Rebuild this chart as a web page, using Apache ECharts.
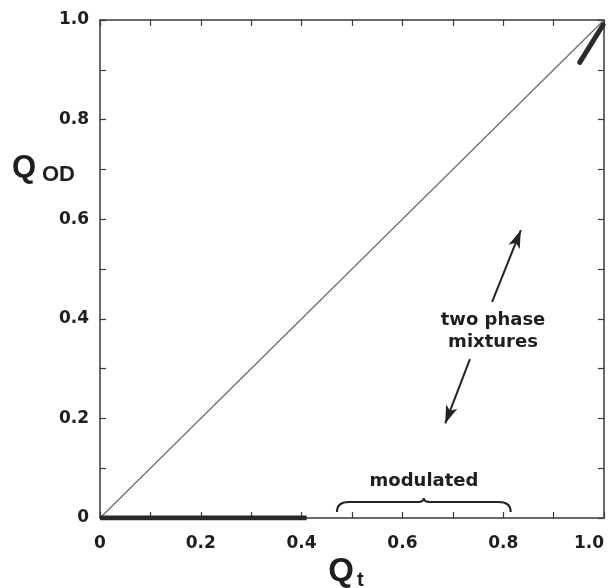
<!DOCTYPE html>
<html>
<head>
<meta charset="utf-8">
<script src="https://cdn.jsdelivr.net/npm/echarts@6/dist/echarts.min.js"></script>
<style>
  html, body { margin: 0; padding: 0; background: #fff; }
  #chart { width: 613px; height: 588px; }
</style>
</head>
<body>
<div id="chart"></div>
<script>
// diagonal Q_OD = Q_t
const diagonal = [[0, 0], [1, 1]];
// thick segments
const lowBranch = [[0, 0], [0.41, 0]];
const highBranch = [[0.952, 0.915], [0.998, 0.99]];
// annotation arrows [from, to]
const arrowUp = [[0.778, 0.434], [0.835, 0.578]];
const arrowDown = [[0.734, 0.319], [0.685, 0.19]];
// brace for "modulated" region: [start, end], baseline y
const braceRange = [0.47, 0.815];
const braceY = 0.012;
const tickLabels = ['0', '0.2', '0.4', '0.6', '0.8', '1.0'];

const chart = echarts.init(document.getElementById('chart'));
const axisColor = '#3a3a3a';
const textColor = '#1e1e1e';
const labelFont = { color: textColor, fontSize: 17, fontWeight: 'bold', fontFamily: 'DejaVu Sans' };

function fmt(v) {
  const k = Math.round(v * 10);
  if (k % 2) return '';
  return tickLabels[k / 2];
}

function baseAxis(extra) {
  return Object.assign({
    type: 'value', min: 0, max: 1, interval: 0.1,
    axisLine: { show: true, onZero: false, lineStyle: { color: axisColor, width: 1.5 } },
    axisTick: { show: true, inside: true, length: 6, lineStyle: { color: axisColor, width: 1.2 } },
    splitLine: { show: false },
  }, extra);
}

const option = {
  backgroundColor: '#fff',
  animation: false,
  grid: { left: 100, right: 9, top: 20, bottom: 70, containLabel: false, outerBoundsMode: 'none' },
  xAxis: [
    baseAxis({ position: 'bottom', axisLabel: Object.assign({ formatter: fmt, margin: 17, alignMaxLabel: 'right' }, labelFont) }),
    baseAxis({ position: 'top', axisLabel: { show: false } }),
  ],
  yAxis: [
    baseAxis({ position: 'left', axisLabel: Object.assign({ formatter: fmt, margin: 11 }, labelFont) }),
    baseAxis({ position: 'right', axisLabel: { show: false } }),
  ],
  series: [
    {
      type: 'line', data: diagonal, symbol: 'none',
      lineStyle: { color: '#6a6a6a', width: 1.2 },
    },
    {
      type: 'line', data: lowBranch, symbol: 'none',
      lineStyle: { color: '#2a2a2a', width: 5 },
    },
    {
      type: 'line', data: highBranch, symbol: 'none',
      lineStyle: { color: '#2a2a2a', width: 5, cap: 'round' },
    },
    {
      type: 'line', data: [], symbol: 'none',
      markLine: {
        silent: true,
        symbol: ['none', 'arrow'],
        symbolSize: [9, 18],
        label: { show: false },
        lineStyle: { color: '#222', width: 2, type: 'solid' },
        data: [
          [{ coord: arrowUp[0] }, { coord: arrowUp[1] }],
          [{ coord: arrowDown[0] }, { coord: arrowDown[1] }],
        ],
      },
    },
    {
      type: 'custom',
      data: [[braceRange[0], braceRange[1], braceY]],
      renderItem: function (params, api) {
        const a = api.coord([api.value(0), api.value(2)]);
        const b = api.coord([api.value(1), api.value(2)]);
        const y = a[1];
        const mid = (a[0] + b[0]) / 2;
        const h = 10;
        const top = y - h;
        const p = 'M' + a[0] + ' ' + y +
          ' Q' + a[0] + ' ' + top + ' ' + (a[0] + 12) + ' ' + top +
          ' L' + (mid - 6) + ' ' + top +
          ' Q' + mid + ' ' + top + ' ' + mid + ' ' + (top - 4) +
          ' Q' + mid + ' ' + top + ' ' + (mid + 6) + ' ' + top +
          ' L' + (b[0] - 12) + ' ' + top +
          ' Q' + b[0] + ' ' + top + ' ' + b[0] + ' ' + y;
        return {
          type: 'path',
          shape: { pathData: p },
          style: { fill: 'none', stroke: '#222', lineWidth: 2 },
        };
      },
    },
  ],
  graphic: [
    {
      type: 'text', x: 24, y: 168,
      style: { text: 'Q', font: 'bold 31px "Liberation Sans"', fill: textColor, align: 'center', verticalAlign: 'middle' },
    },
    {
      type: 'text', x: 42, y: 175,
      style: { text: 'OD', font: 'bold 22px "Liberation Sans"', fill: textColor, align: 'left', verticalAlign: 'middle' },
    },
    {
      type: 'text', x: 341, y: 572,
      style: { text: 'Q', font: 'bold 33px "Liberation Sans"', fill: textColor, align: 'center', verticalAlign: 'middle' },
    },
    {
      type: 'text', x: 357, y: 580,
      style: { text: 't', font: 'bold 20px "Liberation Sans"', fill: textColor, align: 'left', verticalAlign: 'middle' },
    },
    {
      type: 'text', x: 493, y: 320,
      style: { text: 'two phase', font: 'bold 18px "DejaVu Sans"', fill: textColor, align: 'center', verticalAlign: 'middle' },
    },
    {
      type: 'text', x: 493, y: 342,
      style: { text: 'mixtures', font: 'bold 18px "DejaVu Sans"', fill: textColor, align: 'center', verticalAlign: 'middle' },
    },
    {
      type: 'text', x: 424, y: 481,
      style: { text: 'modulated', font: 'bold 18px "DejaVu Sans"', fill: textColor, align: 'center', verticalAlign: 'middle' },
    },
  ],
};

chart.setOption(option);
</script>
</body>
</html>
